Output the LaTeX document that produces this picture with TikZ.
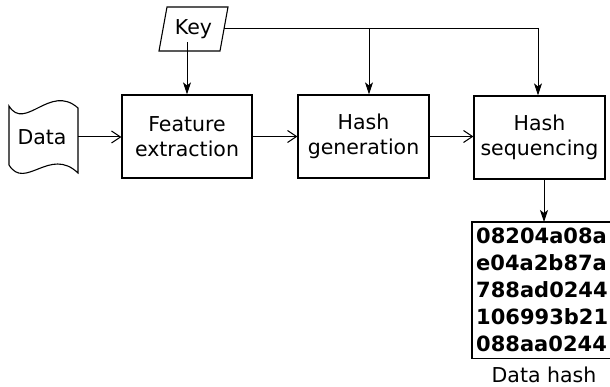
\documentclass[tikz,border=0pt]{standalone}
\usepackage{fontspec}
\setmainfont{DejaVu Sans}
\usetikzlibrary{arrows.meta}
\begin{document}
\begin{tikzpicture}[x=1pt,y=-1pt,
  box/.style={draw,line width=1.2pt,minimum width=130pt,minimum height=83pt,align=center,inner sep=0pt},
  shapeline/.style={line width=1.1pt},
  vconn/.style={line width=0.9pt,-{Stealth[length=12pt,width=8pt,inset=3pt]}},
  hconn/.style={line width=1pt,-{Straight Barb[length=9pt,width=12pt]}},
  txt/.style={font=\fontsize{20.5}{25}\selectfont}]
\useasboundingbox (0,0) rectangle (610,387);
% Key
\node[txt] (Key) at (193.5,29) {Key};
\draw[shapeline] (167,7) -- (228,7) -- (220,51) -- (159,51) -- cycle;
\coordinate (kr) at (224,28);
% Data
\node[txt] (Data) at (42,137) {Data};
\draw[shapeline] (9,106) .. controls (25,132) and (50,83) .. (78,108)
  -- (78,173) .. controls (50,146) and (25,191) .. (9,165) -- cycle;
\coordinate (dr) at (78,137);
% Boxes
\node[box,txt] (FE) at (187,136.5) {Feature\\extraction};
\node[box,txt,minimum width=131pt] (HG) at (363.5,136.5) {Hash\\generation};
\node[box,txt,minimum width=131pt] (HS) at (539.5,137.5) {Hash\\sequencing};
% Hash (its right edge lies outside the picture)
\node[anchor=north west,minimum height=136pt,minimum width=138pt,inner sep=0pt] (hash) at (472,222) {};
\draw[line width=1.2pt] (hash.north east) -- (hash.north west) -- (hash.south west) -- (hash.south east);
\node[anchor=west,inner sep=0pt,align=left,font=\fontsize{21}{27}\selectfont\bfseries] (hashtxt) at (476,290)
  {08204a08a\\e04a2b87a\\788ad0244\\106993b21\\088aa0244};
\node[txt] (lbl) at (544,375) {Data hash};
\coordinate (hgx) at (369,0);
\coordinate (hsx) at (538,0);
\coordinate (hx) at (544,0);
% connectors
\draw[vconn] (Key.south -| FE.north) -- (FE.north);
\draw[line width=0.9pt] (kr) -- (kr -| hsx);
\draw[vconn] (kr -| hgx) -- (HG.north -| hgx);
\draw[vconn] (kr -| hsx) -- (HS.north -| hsx);
\draw[hconn] (dr) -- (FE.west |- dr);
\draw[hconn] (FE.east) -- (HG.west);
\draw[hconn] (HG.east) -- (HG.east -| HS.west);
\draw[vconn] (HS.south -| hx) -- (hash.north -| hx);
\end{tikzpicture}
\end{document}
